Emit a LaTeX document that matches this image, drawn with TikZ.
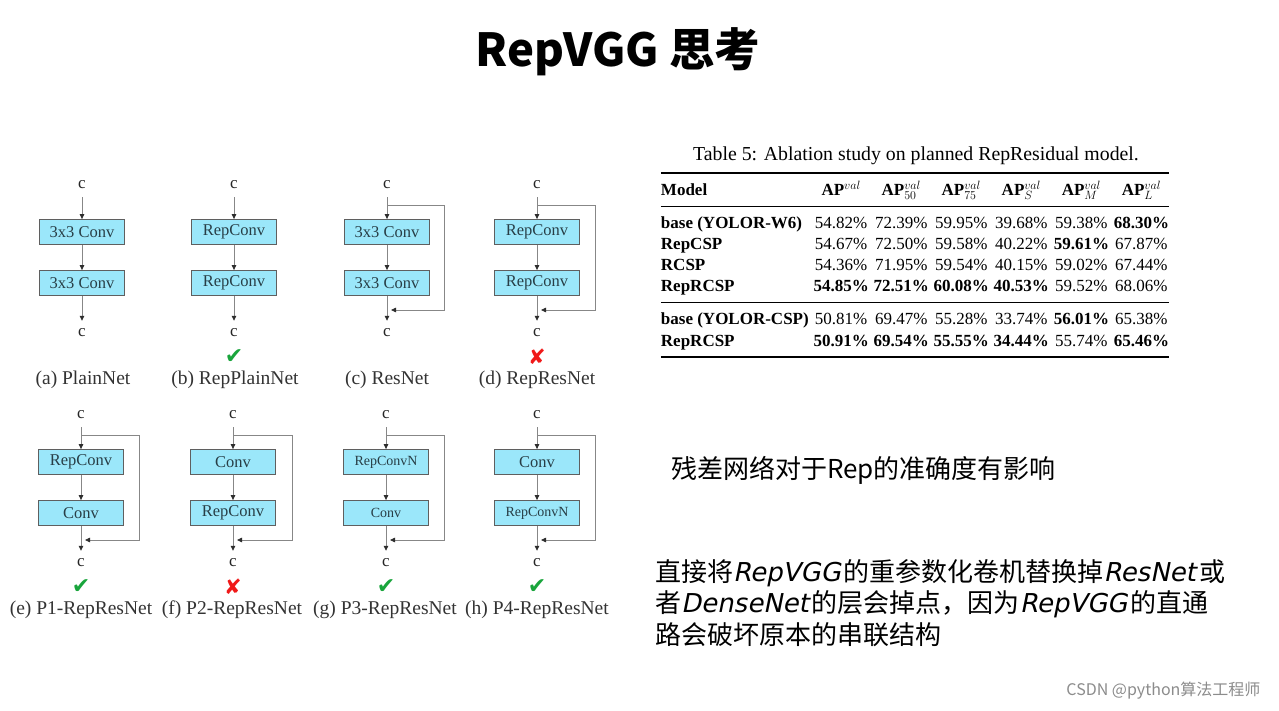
\documentclass[tikz,border=0pt]{standalone}
\usepackage{fontspec}
\usepackage{booktabs}
\setmainfont{Liberation Serif}
\newfontfamily\cjk{Noto Sans CJK SC}
\newfontfamily\latit{DejaVu Sans}[FakeSlant=0.2]
\newfontfamily\symfont{DejaVu Sans}
\usetikzlibrary{arrows.meta,positioning}
\definecolor{boxcyan}{RGB}{155,231,250}
\definecolor{boxline}{RGB}{95,95,95}
\definecolor{boxtext}{RGB}{40,62,70}
\definecolor{linegray}{RGB}{135,135,135}
\definecolor{tipgray}{RGB}{45,45,45}
\definecolor{okgreen}{RGB}{25,165,60}
\definecolor{badred}{RGB}{240,25,25}
\setlength\heavyrulewidth{1.8pt}
\setlength\lightrulewidth{0.9pt}
\setlength\aboverulesep{4pt}
\setlength\belowrulesep{7pt}
\tikzset{
  convbox/.style={draw=boxline, fill=boxcyan, line width=0.8pt, minimum width=85pt, minimum height=25pt, inner sep=0pt, text=boxtext, font=\fontsize{16.5}{18}\selectfont},
  smallbox/.style={convbox, font=\fontsize{14}{16}\selectfont},
  featmap/.style={minimum height=24pt, inner sep=1pt, text=black!85, font=\fontsize{17}{18}\selectfont},
  flow/.style={draw=linegray, line width=0.8pt, -{Triangle[length=5pt,width=4.5pt,color=tipgray]}},
  skip/.style={flow},
  caption/.style={text=black!80, font=\fontsize{19.5}{21}\selectfont},
  okmark/.style={text=okgreen, font=\symfont\fontsize{22}{24}\selectfont},
  badmark/.style={text=badred, font=\symfont\fontsize{21}{24}\selectfont},
}
\begin{document}
\begin{tikzpicture}[x=1pt, y=-1pt]
\useasboundingbox[fill=white] (0,0) rectangle (1279,711);
\node[font=\cjk\bfseries\fontsize{45.5}{50}\selectfont] (title) at (618,52) {RepVGG 思考};

% top row
\node[featmap] (a-in) at (82,185) {c};
\node[convbox] (a-b1) at (82,232) {3x3 Conv};
\node[convbox] (a-b2) at (82,283) {3x3 Conv};
\node[featmap] (a-out) at (82,333) {c};
\node[caption] (a-cap) at (83,380) {(a) PlainNet};

\node[featmap] (b-in) at (234,185) {c};
\node[convbox] (b-b1) at (234,232) {RepConv};
\node[convbox] (b-b2) at (234,283) {RepConv};
\node[featmap] (b-out) at (234,333) {c};
\node[okmark] (b-mark) at (234,357) {✔};
\node[caption] (b-cap) at (235,380) {(b) RepPlainNet};

\node[featmap] (c-in) at (387,185) {c};
\node[convbox] (c-b1) at (387,232) {3x3 Conv};
\node[convbox] (c-b2) at (387,283) {3x3 Conv};
\node[featmap] (c-out) at (387,333) {c};
\node[caption] (c-cap) at (387,380) {(c) ResNet};
\coordinate (c-split) at (387,205);
\coordinate (c-join) at (391,310);

\node[featmap] (d-in) at (537,185) {c};
\node[convbox] (d-b1) at (537,232) {RepConv};
\node[convbox] (d-b2) at (537,283) {RepConv};
\node[featmap] (d-out) at (537,333) {c};
\node[badmark] (d-mark) at (537,357) {✘};
\node[caption] (d-cap) at (537,380) {(d) RepResNet};
\coordinate (d-split) at (537,205);
\coordinate (d-join) at (541,310);

% bottom row
\node[featmap] (e-in) at (81,415) {c};
\node[convbox] (e-b1) at (81,462) {RepConv};
\node[convbox] (e-b2) at (81,513) {Conv};
\node[featmap] (e-out) at (81,563) {c};
\node[okmark] (e-mark) at (81,587) {✔};
\node[caption] (e-cap) at (81,610) {(e) P1-RepResNet};
\coordinate (e-split) at (81,435);
\coordinate (e-join) at (85,540);

\node[featmap] (f-in) at (233,415) {c};
\node[convbox] (f-b1) at (233,462) {Conv};
\node[convbox] (f-b2) at (233,513) {RepConv};
\node[featmap] (f-out) at (233,563) {c};
\node[badmark] (f-mark) at (233,587) {✘};
\node[caption] (f-cap) at (232,610) {(f) P2-RepResNet};
\coordinate (f-split) at (233,435);
\coordinate (f-join) at (237,540);

\node[featmap] (g-in) at (386,415) {c};
\node[smallbox] (g-b1) at (386,462) {RepConvN};
\node[smallbox] (g-b2) at (386,513) {Conv};
\node[featmap] (g-out) at (386,563) {c};
\node[okmark] (g-mark) at (386,587) {✔};
\node[caption] (g-cap) at (385,610) {(g) P3-RepResNet};
\coordinate (g-split) at (386,435);
\coordinate (g-join) at (390,540);

\node[featmap] (h-in) at (537,415) {c};
\node[convbox] (h-b1) at (537,462) {Conv};
\node[smallbox] (h-b2) at (537,513) {RepConvN};
\node[featmap] (h-out) at (537,563) {c};
\node[okmark] (h-mark) at (537,587) {✔};
\node[caption] (h-cap) at (537,610) {(h) P4-RepResNet};
\coordinate (h-split) at (537,435);
\coordinate (h-join) at (541,540);

\path [flow] (a-in) edge (a-b1) (a-b1) edge (a-b2) (a-b2) edge (a-out);
\path [flow] (b-in) edge (b-b1) (b-b1) edge (b-b2) (b-b2) edge (b-out);
\path [flow] (c-in) edge (c-b1) (c-b1) edge (c-b2) (c-b2) edge (c-out);
\path [flow] (d-in) edge (d-b1) (d-b1) edge (d-b2) (d-b2) edge (d-out);
\path [flow] (e-in) edge (e-b1) (e-b1) edge (e-b2) (e-b2) edge (e-out);
\path [flow] (f-in) edge (f-b1) (f-b1) edge (f-b2) (f-b2) edge (f-out);
\path [flow] (g-in) edge (g-b1) (g-b1) edge (g-b2) (g-b2) edge (g-out);
\path [flow] (h-in) edge (h-b1) (h-b1) edge (h-b2) (h-b2) edge (h-out);
\draw [skip] (c-split) -- ++(57,0) |- (c-join);
\draw [skip] (d-split) -- ++(58,0) |- (d-join);
\draw [skip] (e-split) -- ++(58,0) |- (e-join);
\draw [skip] (f-split) -- ++(59,0) |- (f-join);
\draw [skip] (g-split) -- ++(58,0) |- (g-join);
\draw [skip] (h-split) -- ++(58,0) |- (h-join);

% ablation table
\node[font=\fontsize{19.8}{22}\selectfont] (tab-cap) at (916,156) {Table 5: Ablation study on planned RepResidual model.};
\node[anchor=north, inner sep=0pt, font=\fontsize{17}{21}\selectfont] (ablation) at (915,172) {%
\setlength\tabcolsep{2.4pt}%
\begin{tabular}{@{}lcccccc@{}}
\toprule
\textbf{Model} & \textbf{AP}$^{val}$ & \textbf{AP}$^{val}_{50}$ & \textbf{AP}$^{val}_{75}$ & \textbf{AP}$^{val}_{S}$ & \textbf{AP}$^{val}_{M}$ & \textbf{AP}$^{val}_{L}$ \\
\midrule
\textbf{base (YOLOR-W6)} & 54.82\% & 72.39\% & 59.95\% & 39.68\% & 59.38\% & \textbf{68.30\%} \\
\textbf{RepCSP} & 54.67\% & 72.50\% & 59.58\% & 40.22\% & \textbf{59.61\%} & 67.87\% \\
\textbf{RCSP} & 54.36\% & 71.95\% & 59.54\% & 40.15\% & 59.02\% & 67.44\% \\
\textbf{RepRCSP} & \textbf{54.85\%} & \textbf{72.51\%} & \textbf{60.08\%} & \textbf{40.53\%} & 59.52\% & 68.06\% \\
\midrule[1.4pt]
\textbf{base (YOLOR-CSP)} & 50.81\% & 69.47\% & 55.28\% & 33.74\% & \textbf{56.01\%} & 65.38\% \\
\textbf{RepRCSP} & \textbf{50.91\%} & \textbf{69.54\%} & \textbf{55.55\%} & \textbf{34.44\%} & 55.74\% & \textbf{65.46\%} \\
\bottomrule
\end{tabular}};

% notes
\node[anchor=west, inner sep=0pt, font=\cjk\fontsize{26}{31}\selectfont] (effect) at (671,470) {残差网络对于Rep的准确度有影响};
\node[anchor=north west, align=left, inner sep=0pt, font=\cjk\fontsize{26}{31.5}\selectfont] (reason) at (655,559) {直接将{\latit RepVGG}\kern3pt 的重参数化卷机替换掉{\latit ResNet}\kern4pt 或\\者{\latit DenseNet}\kern3pt 的层会掉点，因为{\latit RepVGG}\kern3pt 的直通\\路会破坏原本的串联结构};
\node[anchor=east, text=black!45, font=\cjk\fontsize{16}{18}\selectfont] (watermark) at (1264,691) {CSDN @python算法工程师};
\end{tikzpicture}
\end{document}
